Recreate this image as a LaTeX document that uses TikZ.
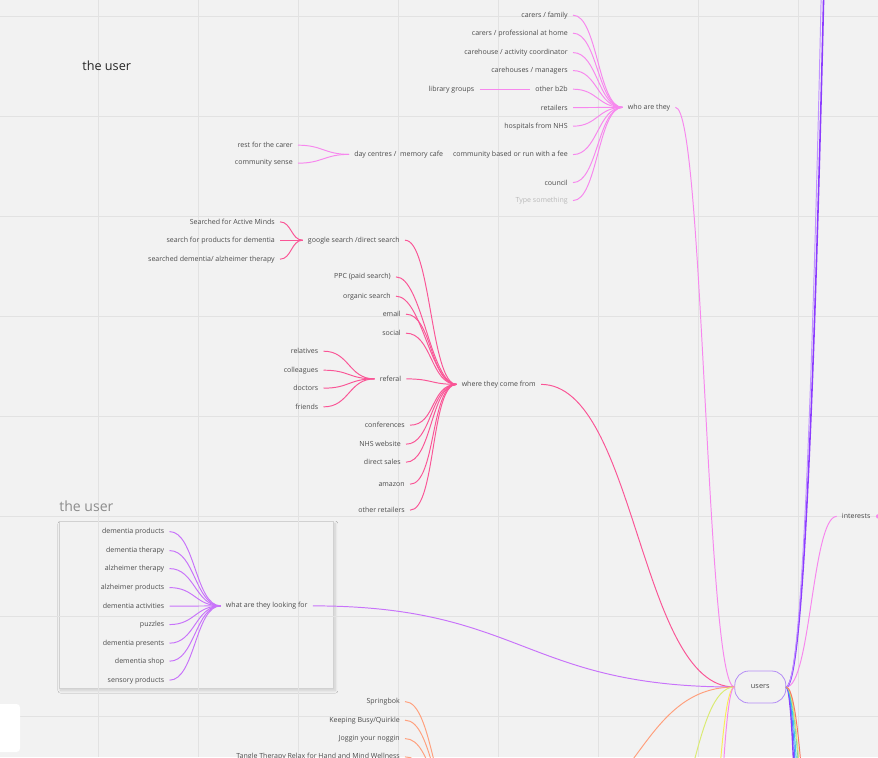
\documentclass[tikz,border=0pt]{standalone}
\usepackage{fontspec}
\setmainfont{Open Sans}
\usetikzlibrary{shadows, shadows.blur}
\definecolor{canvas}{RGB}{242,242,242}
\definecolor{gridc}{RGB}{226,226,226}
\definecolor{ink}{RGB}{75,75,75}
\definecolor{faint}{RGB}{185,185,185}
\definecolor{whoc}{RGB}{247,135,238}
\definecolor{wherec}{RGB}{250,85,150}
\definecolor{whatc}{RGB}{200,115,250}
\definecolor{gamec}{RGB}{255,160,125}
\definecolor{userc}{RGB}{180,140,245}
\definecolor{deepviolet}{RGB}{140,60,255}
\definecolor{limec}{RGB}{218,235,115}
\definecolor{yellowc}{RGB}{250,235,90}
\definecolor{bluec}{RGB}{85,120,255}
\definecolor{cyanc}{RGB}{60,200,235}
\definecolor{tealc}{RGB}{70,190,170}
\definecolor{salmonc}{RGB}{250,120,100}
\newcommand\leaffont{\fontsize{4}{5}\selectfont}
\tikzset{
    leaf/.style={font=\leaffont, text=ink, inner xsep=2.8pt, inner ysep=1pt, yshift=-0.5pt},
    kid/.style={leaf, anchor=east},
    head/.style={leaf, anchor=west},
    hint/.style={kid, text=faint},
    title/.style={font=\fontsize{7.2}{9}\selectfont, text=black!85, inner sep=0pt, anchor=west},
    grouptitle/.style={font=\fontsize{8}{10}\selectfont, text=black!45, inner sep=0pt, anchor=west},
    userbox/.style={rectangle, rounded corners=8pt, draw=userc, line width=0.45pt, minimum width=1.02cm, minimum height=0.64cm, font=\fontsize{4.2}{5}\selectfont, text=ink},
    frame/.style={rectangle, draw=black!18, line width=0.4pt, fill=canvas, minimum width=5.49cm, minimum height=3.33cm,
        blur shadow={shadow xshift=1pt, shadow yshift=-1.2pt, shadow blur radius=1.6pt, shadow blur steps=8, shadow opacity=16}},
    gridline/.style={gridc, line width=0.5pt},
    link/.style={line width=0.55pt, out=0, in=180},
    wholink/.style={link, whoc, distance=0.49cm},
    wherelink/.style={link, wherec, distance=0.52cm},
    whatlink/.style={link, whatc, distance=0.51cm},
    gamelink/.style={link, gamec, distance=0.58cm}
}
\begin{document}
\begin{tikzpicture}[x=0.02cm, y=-0.02cm]
\useasboundingbox (0,0) rectangle (878,757);
\clip (0,0) rectangle (878,757);
\fill[canvas] (0,0) rectangle (878,757);
\node[frame] (frame) at (196.2,605) {};
\foreach \gx in {98,198,...,798} \draw[gridline] (\gx,0) -- (\gx,757);
\foreach \gy in {16,116,...,716} \draw[gridline] (0,\gy) -- (878,\gy);
\fill[white, rounded corners=2pt] (-6,704) rectangle (20,752);

\node[title] (topic) at (82,65.7) {the user};
\node[grouptitle] (grouptitle) at (59,506) {the user};

% who are they
\node[head] (who) at (622.5,106.5) {who are they};
\node[kid] (w1) at (573,14.3) {carers / family};
\node[kid] (w2) at (573,32.3) {carers / professional at home};
\node[kid] (w3) at (573,51.7) {carehouse / activity coordinator};
\node[kid] (w4) at (573,69.7) {carehouses / managers};
\node[kid] (w5) at (573,88.3) {other b2b};
\node[kid] (w6) at (573,106.7) {retailers};
\node[kid] (w7) at (573,125.3) {hospitals from NHS};
\node[kid] (w8) at (573,153.7) {community based or run with a fee};
\node[kid] (w9) at (573,181.7) {council};
\node[hint] (w10) at (573,199.7) {Type something};
\node[kid] (lib) at (479.5,88.3) {library groups};
\node[head] (day) at (349,153.5) {day centres / \ memory cafe};
\node[kid] (rest) at (298,144.3) {rest for the carer};
\node[kid] (sense) at (298,162.3) {community sense};

% where they come from
\node[head] (where) at (456.5,383.5) {where they come from};
\node[head] (google) at (302.7,239.3) {google search /direct search};
\node[kid] (g1) at (280,221) {Searched for Active Minds};
\node[kid] (g2) at (280,239.3) {search for products for dementia};
\node[kid] (g3) at (280,258.3) {searched dementia/ alzheimer therapy};
\node[kid] (ppc) at (396,276) {PPC (paid search)};
\node[kid] (organic) at (396,295.3) {organic search};
\node[kid] (email) at (406,313.3) {email};
\node[kid] (social) at (406,332.3) {social};
\node[head] (referal) at (374.5,378) {referal};
\node[kid] (r1) at (323.5,350.3) {relatives};
\node[kid] (r2) at (323.5,369.3) {colleagues};
\node[kid] (r3) at (323.5,387.3) {doctors};
\node[kid] (r4) at (323.5,406) {friends};
\node[kid] (conf) at (410,424.3) {conferences};
\node[kid] (nhs) at (406,443.3) {NHS website};
\node[kid] (direct) at (406,461.3) {direct sales};
\node[kid] (amazon) at (410,483.3) {amazon};
\node[kid] (other) at (410,509.3) {other retailers};

% what are they looking for
\node[head] (what) at (220.7,605) {what are they looking for};
\node[kid] (k1) at (169.5,530.7) {dementia products};
\node[kid] (k2) at (169.5,549.7) {dementia therapy};
\node[kid] (k3) at (169.5,567.7) {alzheimer therapy};
\node[kid] (k4) at (169.5,586.7) {alzheimer products};
\node[kid] (k5) at (169.5,605.3) {dementia activities};
\node[kid] (k6) at (169.5,623.7) {puzzles};
\node[kid] (k7) at (169.5,642.3) {dementia presents};
\node[kid] (k8) at (169.5,660.3) {dementia shop};
\node[kid] (k9) at (169.5,679.3) {sensory products};

% games
\node[kid] (s1) at (405,700.7) {Springbok};
\node[kid] (s2) at (405,719.3) {Keeping Busy/Quirkle};
\node[kid] (s3) at (405,737.7) {Joggin your noggin};
\node[kid] (s4) at (405,756) {Tangle Therapy Relax for Hand and Mind Wellness};
\coordinate (gamehub) at (463,820);
\coordinate (gameend) at (540,820);

% centre
\node[userbox] (users) at (760.3,687) {users};
\node[head] (interests) at (836.7,515.5) {interests};
\fill[whoc] (interests.east) ++(1.5pt,0) circle (1.3pt);
\coordinate (up1) at (893,-2313);
\coordinate (up2) at (885,-2250);
\coordinate (lowA) at (650,850);
\coordinate (lowB) at (690,1100);
\coordinate (lowC) at (688,1500);
\coordinate (down1) at (814,1300);
\coordinate (down2) at (820,1320);
\coordinate (down3) at (826,1340);
\coordinate (down4) at (832,1300);
\coordinate (down5) at (836,1380);
\coordinate (down6) at (841,1300);

\draw[wholink] (w1.east) to (who.west); \draw[wholink] (w2.east) to (who.west); \draw[wholink] (w3.east) to (who.west);
\draw[wholink] (w4.east) to (who.west); \draw[wholink] (w5.east) to (who.west); \draw[wholink] (w6.east) to (who.west);
\draw[wholink] (w7.east) to (who.west); \draw[wholink] (w8.east) to (who.west); \draw[wholink] (w9.east) to (who.west);
\draw[wholink] (w10.east) to (who.west);
\draw[wholink] (lib.east) to (w5.west);
\draw[wholink] (rest.east) to (day.west); \draw[wholink] (sense.east) to (day.west);

\draw[wherelink, distance=0.23cm] (g1.east) to (google.west); \draw[wherelink, distance=0.23cm] (g2.east) to (google.west);
\draw[wherelink, distance=0.23cm] (g3.east) to (google.west);
\draw[wherelink] (google.east) to (where.west);
\draw[wherelink] (ppc.east) to (where.west); \draw[wherelink] (organic.east) to (where.west);
\draw[wherelink] (email.east) to (where.west); \draw[wherelink] (social.east) to (where.west);
\draw[wherelink] (referal.east) to (where.west);
\draw[wherelink] (r1.east) to (referal.west); \draw[wherelink] (r2.east) to (referal.west);
\draw[wherelink] (r3.east) to (referal.west); \draw[wherelink] (r4.east) to (referal.west);
\draw[wherelink] (conf.east) to (where.west); \draw[wherelink] (nhs.east) to (where.west);
\draw[wherelink] (direct.east) to (where.west); \draw[wherelink] (amazon.east) to (where.west);
\draw[wherelink] (other.east) to (where.west);

\draw[whatlink] (k1.east) to (what.west); \draw[whatlink] (k2.east) to (what.west); \draw[whatlink] (k3.east) to (what.west);
\draw[whatlink] (k4.east) to (what.west); \draw[whatlink] (k5.east) to (what.west); \draw[whatlink] (k6.east) to (what.west);
\draw[whatlink] (k7.east) to (what.west); \draw[whatlink] (k8.east) to (what.west); \draw[whatlink] (k9.east) to (what.west);

\draw[gamelink] (s1.east) to (gamehub); \draw[gamelink] (s2.east) to (gamehub);
\draw[gamelink] (s3.east) to (gamehub); \draw[gamelink] (s4.east) to (gamehub);

% into users
\draw[wholink, distance=0.57cm] (who.east) to (users.west);
\draw[wherelink, distance=1.9cm] (where.east) to (users.west);
\draw[whatlink, distance=4.2cm] (what.east) to (users.west);
\draw[gamelink, distance=1.93cm] (gameend) to (users.west);
\draw[link, limec, distance=0.83cm] (lowA) to (users.west);
\draw[link, yellowc, distance=0.43cm] (lowB) to (users.west);
\draw[link, whoc, distance=0.45cm] (lowC) to (users.west);
\draw[wholink, distance=0.49cm] (users.east) to (interests.west);
\draw[deepviolet, line width=0.9pt] (users.east) .. controls +(1.06cm,0) and +(-1.06cm,0) .. (up1);
\draw[deepviolet!55, line width=0.55pt] (users.east) .. controls +(0.98cm,0) and +(-0.98cm,0) .. (up2);
\draw[link, deepviolet, line width=0.8pt, distance=0.27cm] (users.east) to (down1);
\draw[link, bluec, distance=0.33cm] (users.east) to (down2);
\draw[link, cyanc, distance=0.39cm] (users.east) to (down3);
\draw[link, tealc, distance=0.45cm] (users.east) to (down4);
\draw[link, limec, distance=0.49cm] (users.east) to (down5);
\draw[link, salmonc, distance=0.54cm] (users.east) to (down6);
\end{tikzpicture}
\end{document}
